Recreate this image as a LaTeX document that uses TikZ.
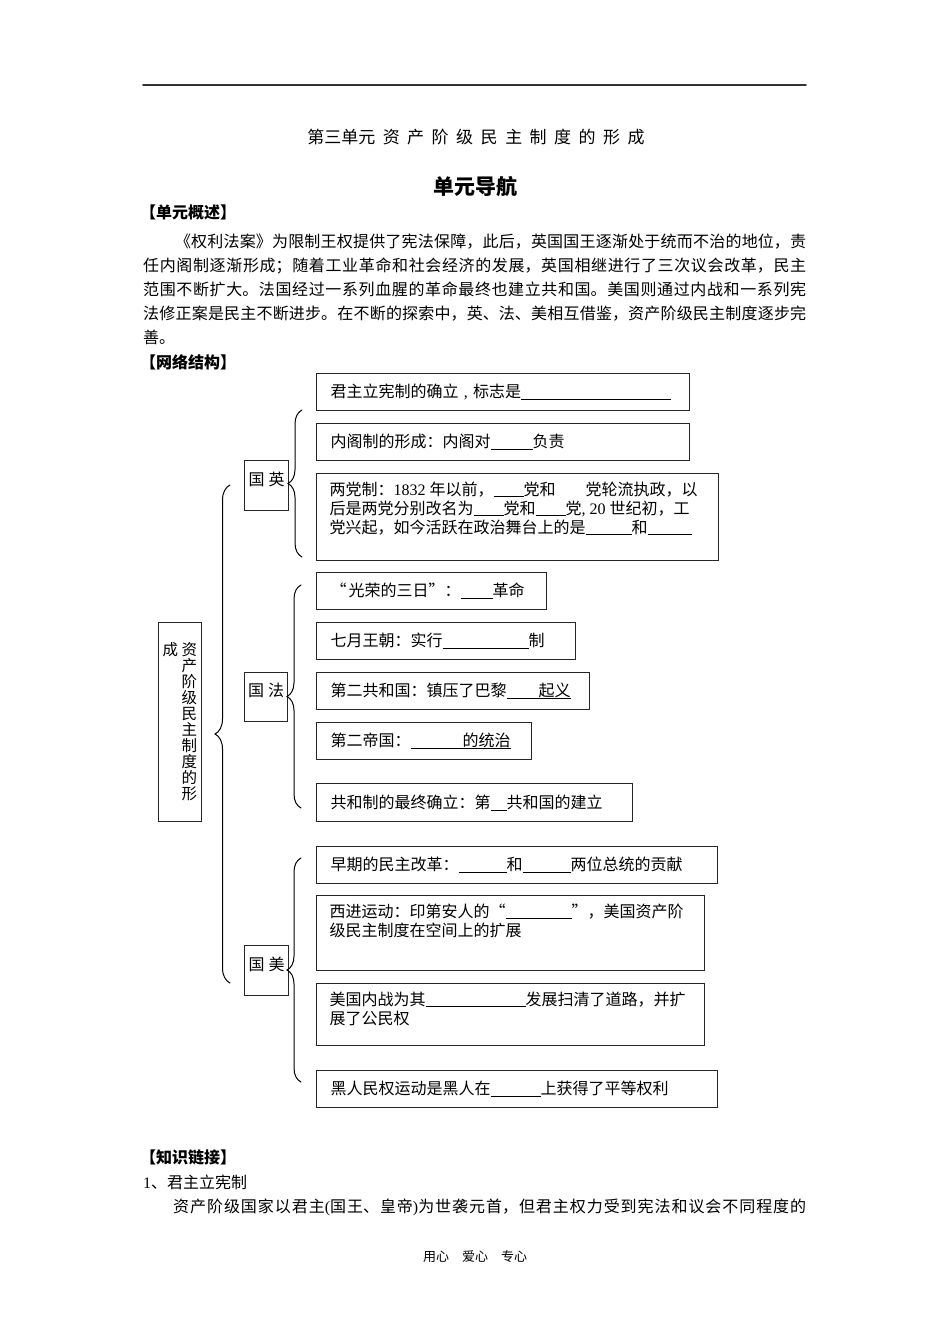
\documentclass[tikz,border=0pt]{standalone}
\usepackage{fontspec}
\setmainfont{Noto Sans CJK SC}
\newfontfamily\lat{Liberation Serif}
\usetikzlibrary{decorations.pathreplacing}
\XeTeXlinebreaklocale "zh"
\XeTeXlinebreakskip=0pt plus 1pt

% blanks to fill in
\newcommand{\blank}[1]{\rule[-2pt]{#1}{0.8pt}}
\newcommand{\ulword}[2]{\rlap{\rule[-2pt]{#1}{0.8pt}}#2}
\newcommand{\tsp}{\hspace{7.5pt}}

\begin{document}
\begin{tikzpicture}[x=1pt, y=-1pt, line cap=round,
  box/.style={draw=black!85, line width=1.1pt, anchor=north west,
    inner xsep=14pt, inner ysep=0pt, align=left,
    font=\fontsize{16pt}{19pt}\selectfont},
  grp/.style={draw=black!85, line width=1.1pt, anchor=north west,
    inner sep=2pt, minimum width=44pt, minimum height=50pt,
    text depth=14pt, font=\fontsize{16pt}{19pt}\selectfont},
  brc/.style={decorate, decoration={brace, amplitude=14pt}, line width=1pt},
  head/.style={anchor=west, inner sep=0pt,
    font=\fontsize{16pt}{19pt}\selectfont\bfseries},
  txt/.style={inner sep=0pt, font=\fontsize{16pt}{24pt}\selectfont}]

  \useasboundingbox (0,0) rectangle (950,1344);

  %--- testata
  \draw[line width=1.6pt, black!80] (143,85) -- (806,85);
  \node[inner sep=0pt, font=\fontsize{17pt}{20pt}\selectfont] (title) at (476,137)
    {第三单元\tsp 资\tsp 产\tsp 阶\tsp 级\tsp 民\tsp 主\tsp 制\tsp 度\tsp 的\tsp 形\tsp 成};
  \node[inner sep=0pt, font=\fontsize{21pt}{24pt}\selectfont\bfseries] (nav) at (475,187) {单元导航};

  %---概述
  \node[head] (h1) at (140,212) {【单元概述】};
  \node[txt, anchor=north west] (ovw) at (143,234) {\parbox{663pt}{\hspace*{32pt}《权利法案》为限制王权提供了宪法保障，此后，英国国王逐渐处于统而不治的地位，责\linebreak%
任内阁制逐渐形成；随着工业革命和社会经济的发展，英国相继进行了三次议会改革，民主\linebreak%
范围不断扩大。法国经过一系列血腥的革命最终也建立共和国。美国则通过内战和一系列宪\linebreak%
法修正案是民主不断进步。在不断的探索中，英、法、美相互借鉴，资产阶级民主制度逐步完\linebreak%
善。}};

  \node[head] (h2) at (140,362) {【网络结构】};

  %--- radice
  \node[draw=black!85, line width=1.1pt, anchor=north west, inner sep=0pt,
    minimum width=43pt, minimum height=199pt,
    font=\fontsize{15.5pt}{16pt}\selectfont] (root) at (158,622)
    {\parbox[t]{16pt}{成}\hspace{3pt}\parbox[t]{16pt}{资\\产\\阶\\级\\民\\主\\制\\度\\的\\形}};
  \coordinate (rootA) at (230,983);
  \coordinate (rootB) at (230,485);
  \draw[brc, decoration={amplitude=15pt}] (rootA) -- (rootB);

  %--- 英国
  \node[grp] (uk) at (244,460) {国\hspace{4pt}英};
  \coordinate (ukA) at (302,557);
  \coordinate (ukB) at (302,410);
  \draw[brc] (ukA) -- (ukB);
  \node[box, text width=345pt, minimum height=37pt] (b1) at (316,373)
    {君主立宪制的确立{\lat\ , }标志是\blank{150pt}};
  \node[box, text width=345pt, minimum height=37pt] (b2) at (316,423)
    {内阁制的形成：内阁对\blank{42pt}负责};
  \node[box, inner xsep=13pt, inner ysep=8pt] (b3) at (316,473)
    {\parbox[c][71pt][t]{376pt}{两党制：{\lat 1832 }年以前，\blank{30pt}党和\hspace{30pt}党轮流执政，以\\后是两党分别改名为\blank{30pt}党和\blank{30pt}党{\lat , 20 }世纪初，工\\党兴起，如今活跃在政治舞台上的是\blank{46pt}和\blank{44pt}}};

  %--- 法国
  \node[grp, minimum width=43pt, minimum height=49pt] (fr) at (244,672) {国\hspace{4pt}法};
  \coordinate (frA) at (301,808);
  \coordinate (frB) at (301,585);
  \draw[brc] (frA) -- (frB);
  \node[box, text width=202pt, minimum height=37pt] (f1) at (316,572)
    {“\hspace{2pt}光荣的三日”：\blank{32pt}革命};
  \node[box, text width=231pt, minimum height=37pt] (f2) at (316,622)
    {七月王朝：实行\blank{86pt}制};
  \node[box, text width=245pt, minimum height=37pt] (f3) at (316,672)
    {第二共和国：镇压了巴黎\ulword{64pt}{\hspace{32pt}起义}};
  \node[box, text width=187pt, minimum height=37pt] (f4) at (316,722)
    {第二帝国：\ulword{100pt}{\hspace{52pt}的统治}};
  \node[box, text width=288pt, minimum height=38pt] (f5) at (316,783)
    {共和制的最终确立：第\blank{16pt}共和国的建立};

  %--- 美国
  \node[grp] (us) at (244,945) {国\hspace{4pt}美};
  \coordinate (usA) at (301,1082);
  \coordinate (usB) at (301,858);
  \draw[brc] (usA) -- (usB);
  \node[box, text width=373pt, minimum height=37pt] (u1) at (316,846)
    {早期的民主改革：\blank{48pt}和\blank{48pt}两位总统的贡献};
  \node[box, inner xsep=13pt, inner ysep=8pt] (u2) at (316,895)
    {\parbox[c][59pt][t]{362pt}{西进运动：印第安人的“\blank{66pt}”，美国资产阶\\级民主制度在空间上的扩展}};
  \node[box, inner xsep=13pt, inner ysep=8pt] (u3) at (316,983)
    {\parbox[c][46pt][t]{362pt}{美国内战为其\blank{100pt}发展扫清了道路，并扩\\展了公民权}};
  \node[box, text width=373pt, minimum height=37pt] (u4) at (316,1070)
    {黑人民权运动是黑人在\blank{50pt}上获得了平等权利};

  %--- 知识链接
  \node[head] (h3) at (140,1157) {【知识链接】};
  \node[txt, anchor=west] (k1) at (143,1182) {{\lat 1}、君主立宪制};
  \node[txt, anchor=north west] (k2) at (173,1199) {\parbox{633pt}{资产阶级国家以君主{\lat (}国王、皇帝{\lat )}为世袭元首，但君主权力受到宪法和议会不同程度的\linebreak\mbox{}}};

  \node[inner sep=0pt, font=\fontsize{13pt}{15pt}\selectfont] (foot) at (475,1257) {用心\quad 爱心\quad 专心};
\end{tikzpicture}
\end{document}
